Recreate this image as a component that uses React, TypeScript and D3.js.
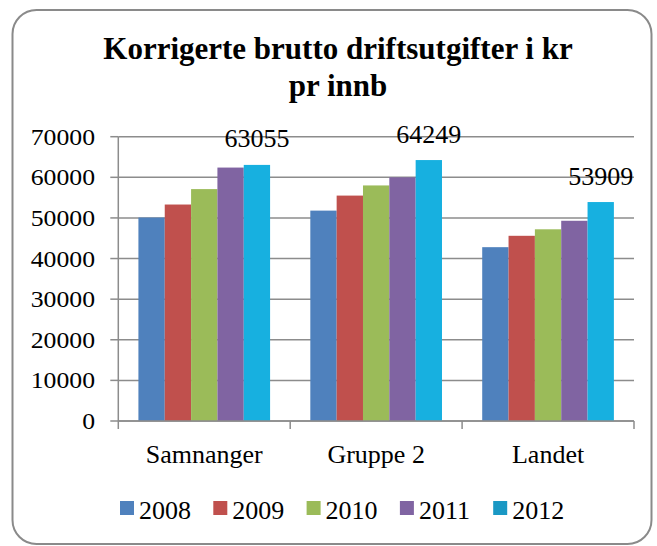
import React from "react";
import * as d3 from "d3";

const categories = ["Samnanger", "Gruppe 2", "Landet"];
const years = ["2008", "2009", "2010", "2011", "2012"];
const values2008 = [50100, 51800, 42800];
const values2009 = [53300, 55500, 45600];
const values2010 = [57100, 58000, 47200];
const values2011 = [62400, 60000, 49300];
const values2012 = [63055, 64249, 53909];
const seriesValues = [values2008, values2009, values2010, values2011, values2012];
const labeledSeries = "2012";
const yTicks = [0, 10000, 20000, 30000, 40000, 50000, 60000, 70000];
const colors = ["#4F81BD", "#C0504D", "#9BBB59", "#8064A2", "#17B0E0"];
const legendColors = ["#4F81BD", "#C0504D", "#9BBB59", "#8064A2", "#1A98C4"];
const titleLines = ["Korrigerte brutto driftsutgifter i kr", "pr innb"];

const W = 657;
const H = 546;
const FONT = "'Liberation Serif', 'Times New Roman', serif";

export default function App() {
  const left = 118.3;
  const right = 634;
  const top = 136.7;
  const bottom = 421;

  const y = d3.scaleLinear().domain([0, 70000]).range([bottom, top]);
  const x0 = d3.scaleBand().domain(categories).range([left, right]).padding(0);
  const bw = x0.bandwidth();
  const x1 = d3
    .scaleBand()
    .domain(years)
    .range([bw * 0.117, bw * (1 - 0.117)])
    .padding(0);

  const grid = "#8c8c8c";
  const legendStep = 93.3;
  const legendX0 = 120;

  return (
    <svg
      width={W}
      height={H}
      style={{ position: "fixed", left: 0, top: 0, background: "#fff" }}
      fontFamily={FONT}
    >
      <rect x={0} y={0} width={W} height={H} fill="#fff" />
      <rect
        x={12.5}
        y={10}
        width={639}
        height={534}
        rx={24}
        ry={24}
        fill="#fff"
        stroke="#8a8a8a"
        strokeWidth={2}
      />
      {titleLines.map((t, i) => (
        <text
          key={t}
          x={338}
          y={59 + i * 37}
          textAnchor="middle"
          fontWeight="bold"
          fontSize={31}
          fill="#000"
        >
          {t}
        </text>
      ))}
      {/* gridlines */}
      {yTicks.map((t) => (
        <g key={t}>
          <line x1={left} x2={right} y1={y(t)} y2={y(t)} stroke={grid} strokeWidth={1.5} />
          <line x1={left - 8} x2={left} y1={y(t)} y2={y(t)} stroke={grid} strokeWidth={1.5} />
          <g transform={`translate(95,${y(t) + 8}) scale(1.12,1)`}>
            <text x={0} y={0} textAnchor="end" fontSize={23} fill="#000">
              {t}
            </text>
          </g>
        </g>
      ))}
      {/* y axis */}
      <line x1={left} x2={left} y1={top} y2={bottom} stroke={grid} strokeWidth={1.5} />
      {/* bars */}
      {categories.map((c, ci) => (
        <g key={c} transform={`translate(${x0(c)},0)`}>
          {years.map((yr, si) => {
            const v = seriesValues[si][ci];
            return (
              <rect
                key={yr}
                x={x1(yr)}
                y={y(v)}
                width={x1.bandwidth()}
                height={y(0) - y(v)}
                fill={colors[si]}
              />
            );
          })}
          {years.map((yr, si) =>
            yr === labeledSeries ? (
              <text
                key={"l" + yr}
                x={(x1(yr) as number) + x1.bandwidth() / 2}
                y={y(seriesValues[si][ci]) - 17.5}
                textAnchor="middle"
                fontSize={26}
                fill="#000"
              >
                {seriesValues[si][ci]}
              </text>
            ) : null
          )}
        </g>
      ))}
      {/* x axis */}
      <line x1={left} x2={right} y1={bottom} y2={bottom} stroke={grid} strokeWidth={1.5} />
      {[...categories.map((c) => x0(c) as number), right].map((xv, i) => (
        <line key={i} x1={xv} x2={xv} y1={bottom} y2={bottom + 8} stroke={grid} strokeWidth={1.5} />
      ))}
      {categories.map((c) => (
        <text
          key={c}
          x={(x0(c) as number) + bw / 2}
          y={462.5}
          textAnchor="middle"
          fontSize={26}
          fill="#000"
        >
          {c}
        </text>
      ))}
      {/* legend */}
      {years.map((yr, i) => (
        <g key={yr} transform={`translate(${legendX0 + i * legendStep},0)`}>
          <rect x={0} y={501} width={14} height={14} fill={legendColors[i]} />
          <text x={19} y={518.5} fontSize={26} fill="#000">
            {yr}
          </text>
        </g>
      ))}
    </svg>
  );
}
